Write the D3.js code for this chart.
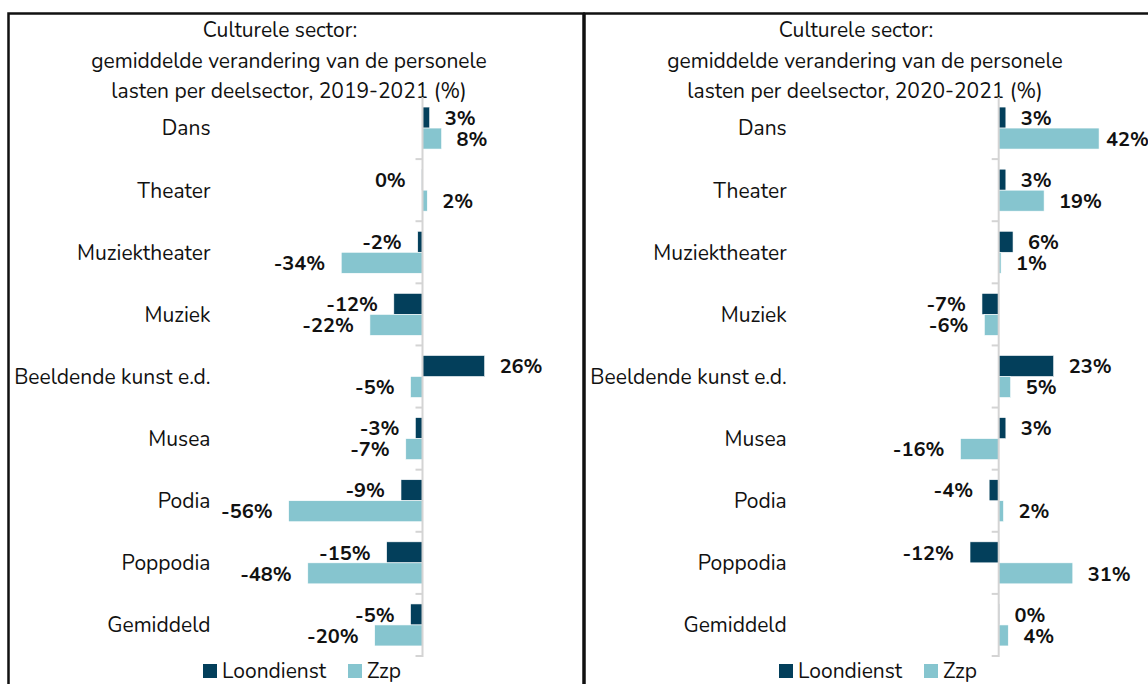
<!DOCTYPE html>
<html>
<head>
<meta charset="utf-8">
<script src="https://cdn.jsdelivr.net/npm/d3@7"></script>
<style>
  html, body { margin: 0; padding: 0; background: #fff; }
  svg { display: block; font-family: "Nunito", Lato, "Open Sans", sans-serif; }
</style>
</head>
<body>
<div id="chart"></div>
<script>
// Data (percent change of personnel costs)
const categories = ["Dans", "Theater", "Muziektheater", "Muziek", "Beeldende kunst e.d.",
                    "Musea", "Podia", "Poppodia", "Gemiddeld"];
const series = ["Loondienst", "Zzp"];

const loondienst1921 = [3, -0.3, -2, -12, 26, -3, -9, -15, -5];
const zzp1921        = [8, 2, -34, -22, -5, -7, -56, -48, -20];
const loondienst2021 = [3, 3, 6, -7, 23, 3, -4, -12, 0.3];
const zzp2021        = [42, 19, 1, -6, 5, -16, 2, 31, 4];

const titles1921 = ["Culturele sector:", "gemiddelde verandering van de personele",
                    "lasten per deelsector, 2019-2021 (%)"];
const titles2021 = ["Culturele sector:", "gemiddelde verandering van de personele",
                    "lasten per deelsector, 2020-2021 (%)"];

const colors = { Loondienst: "#033f5b", Zzp: "#86c5cf" };

const width = 1148, height = 684;

const svg = d3.select("#chart").append("svg")
  .attr("width", width)
  .attr("height", height);

// px per percent is the same in both panels
const pxPer = 2.39;

function drawPanel(opt) {
  const { left, panelWidth, zeroX, domain, titles, loon, zzp } = opt;
  const g = svg.append("g");

  // panel frame (runs past the bottom edge like the original)
  g.append("rect")
    .attr("x", left + 0.5)
    .attr("y", 13.5)
    .attr("width", panelWidth)
    .attr("height", 720)
    .attr("fill", "none")
    .attr("stroke", "#111")
    .attr("stroke-width", 2.5);

  // title
  const tx = left + 281;
  g.selectAll(".title")
    .data(titles)
    .enter()
    .append("text")
      .attr("class", "title")
      .attr("x", (d, i) => i === 0 ? tx - 9 : tx)
      .attr("y", (d, i) => 30 + i * 30.5)
      .attr("dy", "0.35em")
      .attr("text-anchor", "middle")
      .attr("font-size", 21)
      .attr("fill", "#111")
      .text(d => d);

  const x = d3.scaleLinear()
    .domain(domain)
    .range([zeroX + domain[0] * pxPer, zeroX + domain[1] * pxPer]);

  const y = d3.scaleBand()
    .domain(categories)
    .range([97, 656]);

  const sub = d3.scaleBand()
    .domain(series)
    .range([y.bandwidth() / 2 - 21, y.bandwidth() / 2 + 21]);

  const rows = categories.map((c, i) => ({ cat: c, Loondienst: loon[i], Zzp: zzp[i] }));
  const marks = [];
  rows.forEach(r => series.forEach(s => marks.push({ cat: r.cat, s: s, v: r[s] })));

  // bars
  g.selectAll("rect.bar")
    .data(marks)
    .enter()
    .append("rect")
      .attr("class", "bar")
      .attr("x", d => x(Math.min(0, d.v)))
      .attr("y", d => y(d.cat) + sub(d.s))
      .attr("width", d => Math.abs(x(d.v) - x(0)))
      .attr("height", sub.bandwidth())
      .attr("fill", d => colors[d.s])
      .attr("stroke", "#fff")
      .attr("stroke-width", 0.6);

  // vertical category axis at zero
  const x0 = x(0);
  g.append("line")
    .attr("x1", x0).attr("x2", x0)
    .attr("y1", y.range()[0]).attr("y2", y.range()[1] + 1)
    .attr("stroke", "#d4d4d4")
    .attr("stroke-width", 2);

  const tickYs = categories.map(c => y(c)).concat([y.range()[1]]);
  g.selectAll("line.tick")
    .data(tickYs.slice(1))
    .enter()
    .append("line")
      .attr("class", "tick")
      .attr("x1", x0 - 7).attr("x2", x0)
      .attr("y1", d => d).attr("y2", d => d)
      .attr("stroke", "#d4d4d4")
      .attr("stroke-width", 2);

  // category labels
  g.selectAll("text.cat")
    .data(categories)
    .enter()
    .append("text")
      .attr("class", "cat")
      .attr("x", x0 - 212)
      .attr("y", d => y(d) + y.bandwidth() / 2)
      .attr("dy", "0.35em")
      .attr("text-anchor", "end")
      .attr("font-size", 21)
      .attr("fill", "#111")
      .text(d => d);

  // value labels
  g.selectAll("text.val")
    .data(marks)
    .enter()
    .append("text")
      .attr("class", "val")
      .attr("x", d => d.v >= 0 ? Math.min(x(d.v) + 15, width - 42) : x(d.v) - 16)
      .attr("y", d => y(d.cat) + sub(d.s) + sub.bandwidth() / 2)
      .attr("dy", "0.36em")
      .attr("text-anchor", d => d.v >= 0 ? "start" : "end")
      .attr("font-size", 20)
      .attr("font-weight", "bold")
      .attr("fill", "#111")
      .text(d => `${Math.round(d.v)}%`);

  // legend
  const lg = g.append("g").attr("transform", `translate(${left + 195}, 664)`);
  const items = lg.selectAll("g")
    .data(series)
    .enter()
    .append("g")
      .attr("transform", (d, i) => `translate(${i * 145}, 0)`);
  items.append("rect")
    .attr("width", 14).attr("height", 14)
    .attr("fill", d => colors[d]);
  items.append("text")
    .attr("x", 19)
    .attr("y", 7)
    .attr("dy", "0.35em")
    .attr("font-size", 21)
    .attr("fill", "#111")
    .text(d => d);
}

drawPanel({
  left: 8, panelWidth: 575, zeroX: 422.5, domain: [-60, 40],
  titles: titles1921, loon: loondienst1921, zzp: zzp1921
});

drawPanel({
  left: 584, panelWidth: 600, zeroX: 998.7, domain: [-20, 60],
  titles: titles2021, loon: loondienst2021, zzp: zzp2021
});
</script>
</body>
</html>
